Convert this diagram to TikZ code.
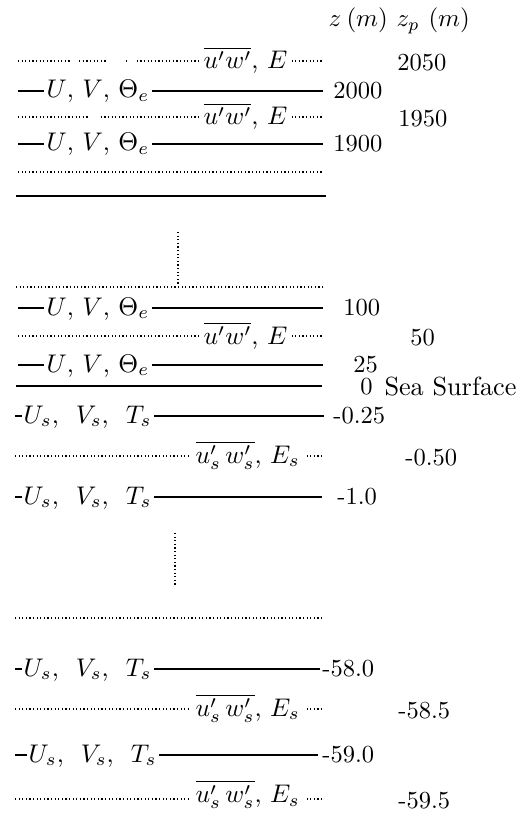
\documentclass[tikz,border=0pt]{standalone}
\begin{document}
\begin{tikzpicture}[x=1pt,y=-1pt,
  sol/.style={line width=1.3pt},
  thk/.style={line width=2.8pt},
  dts/.style={line width=1.1pt, dash pattern=on 1.1pt off 2.5pt},
  lab/.style={scale=2.55, fill=white, inner xsep=1.2pt, inner ysep=0.4pt, anchor=base west},
  num/.style={scale=2.45, inner sep=0pt, anchor=west},
  hdr/.style={scale=2.5, inner sep=0pt, anchor=base west},
  gap/.style={fill=white, draw=none}]
\useasboundingbox (0,0) rectangle (531,813);
% helpers
\newcommand\atmsol[4]{% name, y, z x, z label
  \coordinate (#1a) at (18,#2); \coordinate (#1b) at (323,#2);
  \draw[sol] (#1a) -- (#1b);
  \node[lab] (#1t) at (43,#2+7) {$U$,\ $V$,\ $\Theta_e$\hspace{1.5pt}};
  \node[num] (#1z) at (#3,#2) {#4};}
\newcommand\atmdot[4]{% name, y, zp x, zp label
  \coordinate (#1a) at (18,#2); \coordinate (#1b) at (323,#2);
  \draw[dts] (#1a) -- (#1b);
  \node[lab, inner xsep=2pt] (#1t) at (198,#2+8) {$\overline{u'w'}$,\ $E$};
  \node[num] (#1z) at (#3,#2+1.5) {#4};}
\newcommand\ocnsol[6]{% name, y, text x, line end, z x, z label
  \coordinate (#1a) at (15,#2); \coordinate (#1b) at (#4,#2);
  \draw[sol] (#1a) -- (#1b);
  \node[lab, inner xsep=0.8pt] (#1t) at (#3,#2+7) {$U_s$,\ \ $V_s$,\ \ $T_s$};
  \node[num] (#1z) at (#5,#2) {#6};}
\newcommand\ocndot[5]{% name, y, zp x, zp label, text offset
  \coordinate (#1a) at (15,#2); \coordinate (#1b) at (322,#2);
  \draw[dts] (#1a) -- (#1b);
  \node[lab, inner xsep=2pt] (#1t) at (190,#2+#5) {$\overline{u'_s\, w'_s}$,\ $E_s$};
  \node[num] (#1z) at (#3,#2+1.5) {#4};}
% header
\node[hdr] (hz) at (328,27) {$z$};
\node[hdr] (hzm) at (346,27) {$(m)$};
\node[hdr] (hzp) at (396,27) {$z_p$};
\node[hdr] (hzpm) at (428,27) {$(m)$};
% atmosphere
\atmdot{r1}{61}{397}{2050}
\fill[gap] (72,55) rectangle (79,67);
\fill[gap] (106,55) rectangle (125,67);
\fill[gap] (129,55) rectangle (136,67);
\atmsol{r2}{91}{333}{2000}
\atmdot{r3}{117}{398}{1950}
\fill[gap] (89,111) rectangle (99,123);
\atmsol{r4}{144}{333}{1900}
\coordinate (r5a) at (18,172); \coordinate (r5b) at (323,172);
\draw[dts] (r5a) -- (r5b);
\coordinate (r6a) at (16,196); \coordinate (r6b) at (326,196);
\draw[line width=1.7pt] (r6a) -- (r6b);
\coordinate (v1a) at (178,232); \coordinate (v1b) at (178,284);
\draw[dts] (v1a) -- (v1b);
\coordinate (r7a) at (16,287); \coordinate (r7b) at (324,287);
\draw[dts] (r7a) -- (r7b);
\atmsol{r8}{308}{343}{100}
\atmdot{r9}{336}{410}{50}
\atmsol{r10}{365}{353}{25}
% sea surface
\coordinate (r11a) at (16,386); \coordinate (r11b) at (322,386);
\draw[thk] (r11a) -- (r11b);
\node[num] (r11z) at (360,387) {0};
\node[num, scale=1.07] (sea) at (384,387) {Sea Surface};
% ocean
\ocnsol{r12}{416}{21}{324}{333}{-0.25}
\ocndot{r13}{456}{405}{-0.50}{7}
\ocnsol{r14}{497}{21}{322}{337}{-1.0}
\coordinate (v2a) at (175,533); \coordinate (v2b) at (175,585);
\draw[dts] (v2a) -- (v2b);
\coordinate (r15a) at (15,618); \coordinate (r15b) at (322,618);
\draw[dts] (r15a) -- (r15b);
\ocnsol{r16}{669}{21}{320}{322}{-58.0}
\ocndot{r17}{709}{398}{-58.5}{7}
\ocnsol{r18}{755}{26}{318}{322}{-59.0}
\ocndot{r19}{799}{398}{-59.5}{3.5}
\end{tikzpicture}
\end{document}
